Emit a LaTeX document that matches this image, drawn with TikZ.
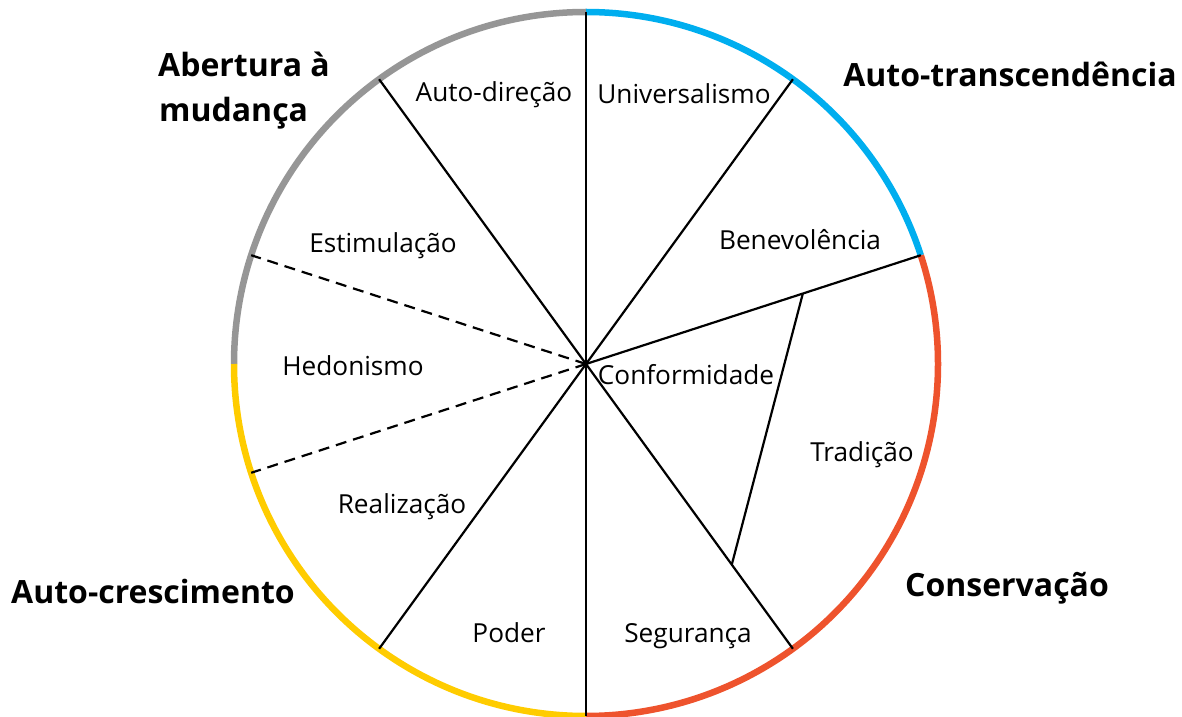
\documentclass[tikz,border=0pt]{standalone}
\usepackage{fontspec}
\setmainfont{Open Sans}
\definecolor{rimgray}{RGB}{150,150,150}
\definecolor{rimblue}{RGB}{0,174,239}
\definecolor{rimred}{RGB}{238,83,45}
\definecolor{rimyellow}{RGB}{255,204,0}

\begin{document}
\begin{tikzpicture}[
                x=1pt, y=1pt,
                every node/.style={
                    inner sep=0pt,
                    anchor=base,
                    font=\fontsize{26.2}{31}\selectfont
                },
                group/.style={font=\fontsize{32}{45}\selectfont\bfseries},
                spoke/.style={line width=2.2pt},
                dashspoke/.style={spoke, dash pattern=on 11pt off 7pt},
                rim/.style={line width=6.5pt}
            ]
                \useasboundingbox (0,0) rectangle (1182,716);
                \coordinate (O) at (586,352);
                % pontos no circulo
                \foreach \a in {18,54,90,126,162,180,198,234,270,306}
                    \coordinate (p\a) at ([shift={(\a:352)}]O);
                \coordinate (c1) at ([shift={(18:228)}]O);
                \coordinate (c2) at ([shift={(306:248)}]O);

                % arcos coloridos
                \draw[rim, rimgray] (p90) arc[start angle=90, end angle=180, radius=352];
                \draw[rim, rimyellow] (p180) arc[start angle=180, end angle=270, radius=352];
                \draw[rim, rimred] (p270) arc[start angle=270, end angle=378, radius=352];
                \draw[rim, rimblue] (p18) arc[start angle=18, end angle=90, radius=352];

                % raios
                \draw[spoke] (p90) -- (p270);
                \draw[spoke] (O) -- (p54);
                \draw[spoke] (O) -- (p18);
                \draw[spoke] (O) -- (p306);
                \draw[spoke] (O) -- (p126);
                \draw[spoke] (O) -- (p234);
                \draw[dashspoke] (O) -- (p162);
                \draw[dashspoke] (O) -- (p198);
                \draw[spoke] (c1) -- (c2);

                % valores
                \node (autodir) at (494,614) {Auto-direção};
                \node (univ) at (684,612) {Universalismo};
                \node (bene) at (800,466) {Benevolência};
                \node (estim) at (383,464) {Estimulação};
                \node (hedon) at (353,341) {Hedonismo};
                \node (conf) at (686,332) {Conformidade};
                \node (trad) at (862,255) {Tradição};
                \node (realiz) at (402,203) {Realização};
                \node (poder) at (509,74) {Poder};
                \node (seg) at (688,74) {Segurança};

                % grupos
                \node[group, anchor=base west] (abert1) at (158,639) {Abertura à};
                \node[group, anchor=base west] (abert2) at (159,594) {mudança};
                \node[group] (transc) at (1010,629) {Auto-transcendência};
                \node[group] (conserv) at (1007,120) {Conservação};
                \node[group] (cresc) at (153,113) {Auto-crescimento};
            \end{tikzpicture}
\end{document}
